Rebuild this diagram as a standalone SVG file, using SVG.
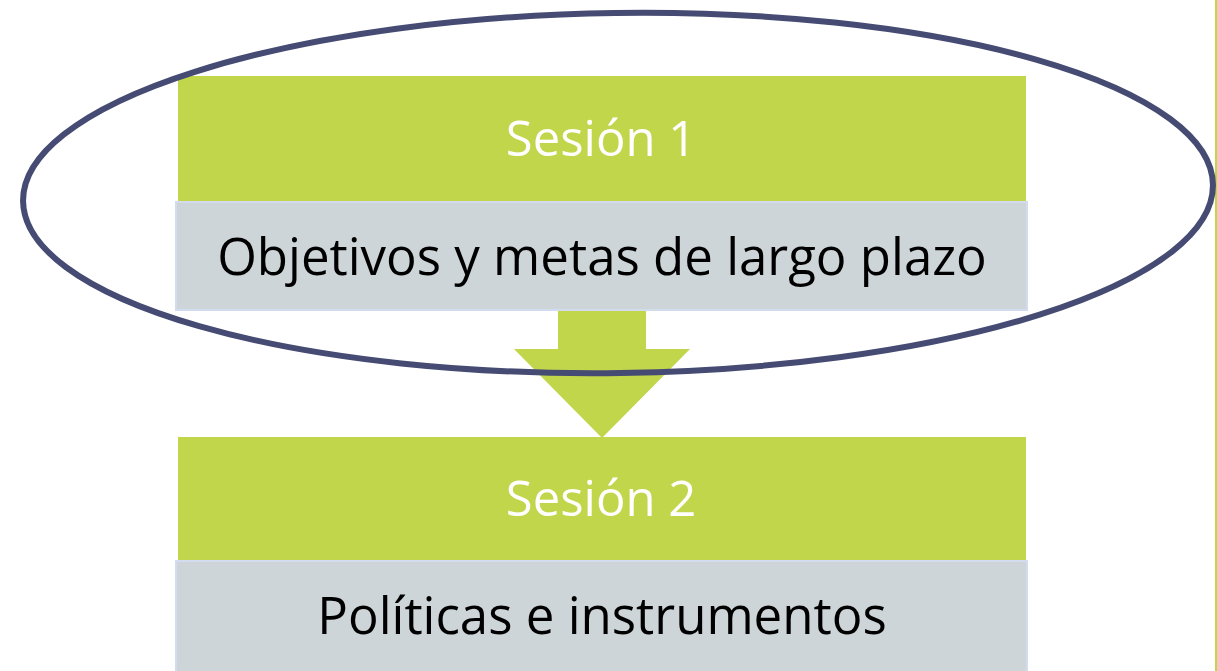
<svg xmlns="http://www.w3.org/2000/svg" width="1217" height="671" viewBox="0 0 1217 671">
<style>
.hdr{fill:#C1D64B}
.body{fill:#CDD5D9;stroke:#D3DBEE;stroke-width:2}
.t1{font-family:"Open Sans","Noto Sans",sans-serif;font-size:49px;fill:#FFFFFF;text-anchor:middle}
.t2{font-family:"Open Sans","Noto Sans",sans-serif;font-size:51px;fill:#000000;text-anchor:middle}
</style>
<rect x="0" y="0" width="1217" height="671" fill="#FFFFFF"/>
<line x1="1216" y1="0" x2="1216" y2="671" stroke="#C1D64B" stroke-width="2"/>
<g id="connectors">
<polygon class="hdr" points="558,311 646,311 646,349 690,349 602,438 514,349 558,349"/>
</g>
<g id="session1">
<rect class="hdr" x="178" y="76" width="848" height="125"/>
<text class="t1" x="601" y="156">Sesión 1</text>
<rect class="body" x="176" y="202" width="851" height="108"/>
<text class="t2" x="602" y="275">Objetivos y metas de largo plazo</text>
</g>
<g id="session2">
<rect class="hdr" x="178" y="437" width="848" height="124"/>
<text class="t1" x="601" y="516">Sesión 2</text>
<rect class="body" x="176" y="561" width="851" height="112"/>
<text class="t2" x="602" y="634">Políticas e instrumentos</text>
</g>
<g id="highlight">
<ellipse cx="618" cy="193" rx="595" ry="180" fill="none" stroke="#454B72" stroke-width="6" transform="rotate(-0.8 618 193)"/>
</g>
</svg>
